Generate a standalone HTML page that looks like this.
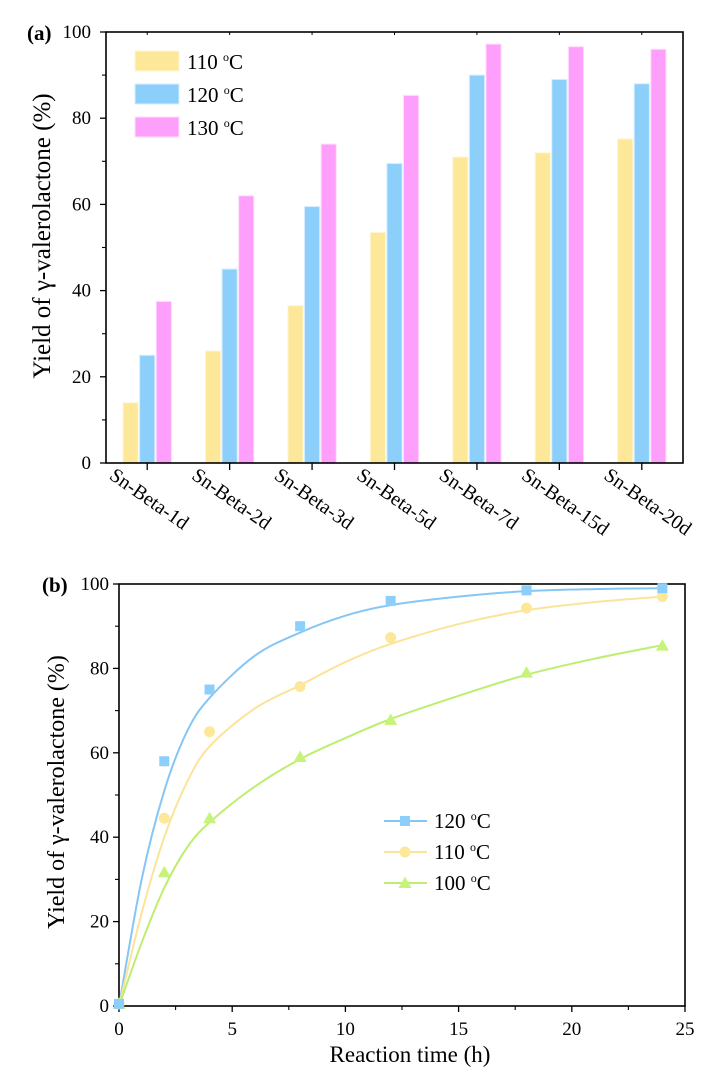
<!DOCTYPE html>
<html><head><meta charset="utf-8"><style>
html,body{margin:0;padding:0;background:#fff;}
svg{display:block;font-family:"Liberation Serif",serif;}
</style></head><body>
<svg id="chart" width="728" height="1085" viewBox="0 0 728 1085" xmlns="http://www.w3.org/2000/svg"></svg>
<script>
// ---- Panel (a) data ----
const catsA = ["Sn-Beta-1d","Sn-Beta-2d","Sn-Beta-3d","Sn-Beta-5d","Sn-Beta-7d","Sn-Beta-15d","Sn-Beta-20d"];
const yield110 = [14, 26, 36.5, 53.5, 71, 72, 75.2];
const yield120 = [25, 45, 59.5, 69.5, 90, 89, 88];
const yield130 = [37.5, 62, 74, 85.3, 97.2, 96.6, 96];
const seriesNamesA = ["110 \u00B0C","120 \u00B0C","130 \u00B0C"];
const yTicksA = [0,20,40,60,80,100];
// ---- Panel (b) data ----
const timeB = [2,4,8,12,18,24];
const pts120 = [58,75,90,96,98.5,99];
const pts110 = [44.5,65,75.7,87.3,94.3,97];
const pts100 = [31.7,44.5,59,67.8,79,85.4];
const fitTime = [0,1,2,3,4,6,8,10,12,15,18,21,24];
const fit120 = [0,30,51,65,73,83,88.5,92.5,95,97,98.3,98.8,99];
const fit110 = [0,22,40,53,61.5,70.5,76,81.5,85.8,90.5,93.8,95.7,97];
const fit100 = [0,15,28,37.5,43.5,52,58.5,63.5,68,73.5,78.5,82.3,85.5];
const xTicksB = [0,5,10,15,20,25];
const yTicksB = [0,20,40,60,80,100];

const NS="http://www.w3.org/2000/svg";
const svg=document.getElementById('chart');
function mk(tag,attrs,parent){const e=document.createElementNS(NS,tag);for(const k in attrs)e.setAttribute(k,attrs[k]);(parent||svg).appendChild(e);return e;}

// ===== Panel A =====
const A={l:106,r:683,t:32,b:463};
const ya=v=>A.b-(v/100)*(A.b-A.t);
const band=(A.r-A.l)/catsA.length;
const xa=i=>A.l+band*(i+0.5);
const gA=mk('g',{});


const colsA=['#fde89a','#8ccffb','#fd9ffb'];
const edgeA=['#fff6d6','#d6efff','#ffe0fe'];
const dataA=[yield110,yield120,yield130];
const bw=15.2,gap=1.4;
dataA.forEach((arr,s)=>{arr.forEach((v,i)=>{
  const x=xa(i)+(s-1)*(bw+gap)-bw/2;
  const r=mk('rect',{x:x,y:ya(v),width:bw,height:A.b-ya(v),fill:colsA[s],stroke:edgeA[s],'stroke-width':1},gA);
  
  
});});
mk('rect',{x:A.l,y:A.t,width:A.r-A.l,height:A.b-A.t,fill:'none',stroke:'#000','stroke-width':1.6},gA);
yTicksA.forEach(v=>{
  mk('line',{x1:A.l-6,x2:A.l,y1:ya(v),y2:ya(v),stroke:'#000','stroke-width':1.3},gA);
  const t=mk('text',{x:A.l-15,y:ya(v)+6,'text-anchor':'end','font-size':19},gA);t.textContent=v;
  
  if(v<100){mk('line',{x1:A.l-4,x2:A.l,y1:ya(v+10),y2:ya(v+10),stroke:'#000','stroke-width':1.1},gA);}
});
catsA.forEach((c,i)=>{
  mk('line',{x1:xa(i),x2:xa(i),y1:A.b,y2:A.b+7,stroke:'#000','stroke-width':1.3},gA);
  mk('line',{x1:xa(i),x2:xa(i),y1:A.t,y2:A.t+3,stroke:'#000','stroke-width':1},gA);
  const tx=xa(i)-39,ty=478;
  const t=mk('text',{x:tx,y:ty,'font-size':20,transform:`rotate(35 ${tx} ${ty})`},gA);t.textContent=c;
  
});
{const t=mk('text',{x:27,y:40,'font-size':21,'font-weight':'bold'},gA);t.textContent='(a)';
 }
{const t=mk('text',{x:0,y:0,'font-size':25,'text-anchor':'middle',transform:'translate(50 236) rotate(-90)'},gA);t.textContent='Yield of \u03B3-valerolactone (%)';
 }
seriesNamesA.forEach((n,s)=>{
  const y0=51+s*33;
  const g=mk('g',{},gA);
  
  mk('rect',{x:135,y:y0,width:44,height:20,fill:colsA[s],stroke:edgeA[s]},g);
  const t=mk('text',{x:187,y:y0+18,'font-size':21},g);
  t.innerHTML=n.split(' ')[0]+' <tspan dy="-8" font-size="12">o</tspan><tspan dy="8">C</tspan>';
});

// ===== Panel B =====
const B={l:119,r:685,t:584,b:1006};
const xb=v=>B.l+(v/25)*(B.r-B.l);
const yb=v=>B.b-(v/100)*(B.b-B.t);
const gB=mk('g',{});


mk('rect',{x:B.l,y:B.t,width:B.r-B.l,height:B.b-B.t,fill:'none',stroke:'#000','stroke-width':1.6},gB);
yTicksB.forEach(v=>{
  mk('line',{x1:B.l-6,x2:B.l,y1:yb(v),y2:yb(v),stroke:'#000','stroke-width':1.3},gB);
  const t=mk('text',{x:B.l-10,y:yb(v)+6,'text-anchor':'end','font-size':19},gB);t.textContent=v;
  
  if(v<100)mk('line',{x1:B.l-4,x2:B.l,y1:yb(v+10),y2:yb(v+10),stroke:'#000','stroke-width':1.1},gB);
});
xTicksB.forEach(v=>{
  mk('line',{x1:xb(v),x2:xb(v),y1:B.b,y2:B.b+6,stroke:'#000','stroke-width':1.3},gB);
  if(v<25)mk('line',{x1:xb(v+2.5),x2:xb(v+2.5),y1:B.b,y2:B.b+4,stroke:'#000','stroke-width':1.1},gB);
  const t=mk('text',{x:xb(v),y:B.b+29,'text-anchor':'middle','font-size':19},gB);t.textContent=v;
  
});
{const t=mk('text',{x:410,y:1062,'text-anchor':'middle','font-size':23},gB);t.textContent='Reaction time (h)';
 }
{const t=mk('text',{x:0,y:0,'font-size':24,'text-anchor':'middle',transform:'translate(64 792) rotate(-90)'},gB);t.textContent='Yield of \u03B3-valerolactone (%)';
 }
{const t=mk('text',{x:42,y:592,'font-size':21,'font-weight':'bold'},gB);t.textContent='(b)';
 }

function smoothPath(xs,ys){
  const P=xs.map((x,i)=>[xb(x),yb(ys[i])]);
  let d=`M${P[0][0]},${P[0][1]}`;
  for(let i=0;i<P.length-1;i++){
    const p0=P[Math.max(0,i-1)],p1=P[i],p2=P[i+1],p3=P[Math.min(P.length-1,i+2)];
    const c1=[p1[0]+(p2[0]-p0[0])/6,p1[1]+(p2[1]-p0[1])/6];
    const c2=[p2[0]-(p3[0]-p1[0])/6,p2[1]-(p3[1]-p1[1])/6];
    d+=`C${c1[0]},${c1[1]} ${c2[0]},${c2[1]} ${p2[0]},${p2[1]}`;
  }
  return d;
}
const serB=[
 {name:'120',fit:fit120,pts:pts120,col:'#8ccffb',line:'#86c6f5',mk:'sq'},
 {name:'110',fit:fit110,pts:pts110,col:'#fde89a',line:'#fbe49a',mk:'ci'},
 {name:'100',fit:fit100,pts:pts100,col:'#c6f47a',line:'#bdee70',mk:'tr'}
];
function marker(type,cx,cy,col,parent){
  if(type==='sq')return mk('rect',{x:cx-5,y:cy-5,width:10,height:10,fill:col},parent);
  if(type==='ci')return mk('circle',{cx:cx,cy:cy,r:5.5,fill:col},parent);
  return mk('polygon',{points:`${cx},${cy-6.5} ${cx-6.5},${cy+5} ${cx+6.5},${cy+5}`,fill:col},parent);
}
serB.forEach(s=>{
  const p=mk('path',{d:smoothPath(fitTime,s.fit),fill:'none',stroke:s.line,'stroke-width':2},gB);
  
});
serB.slice().reverse().forEach(s=>{
  const m0=marker(s.mk,xb(0),yb(0.5),s.col,gB);
  
  s.pts.forEach((v,i)=>{
    const m=marker(s.mk,xb(timeB[i]),yb(v),s.col,gB);
    
    
  });
});
serB.forEach((s,k)=>{
  const y=821+k*31;
  const g=mk('g',{},gB);
  
  mk('line',{x1:384,x2:427,y1:y,y2:y,stroke:s.line,'stroke-width':2},g);
  marker(s.mk,405,y,s.col,g);
  const t=mk('text',{x:434,y:y+7,'font-size':21},g);
  t.innerHTML=s.name+' <tspan dy="-8" font-size="12">o</tspan><tspan dy="8">C</tspan>';
});
</script>
</body></html>
